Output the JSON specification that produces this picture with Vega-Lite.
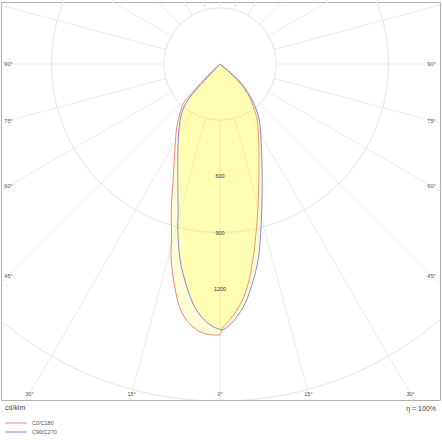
{
  "$schema": "https://vega.github.io/schema/vega-lite/v6.json",
  "width": 439,
  "height": 398,
  "autosize": {"type": "none"},
  "padding": {"left": 1, "top": 2, "right": 2, "bottom": 40},
  "background": "white",
  "config": {
    "view": {"stroke": "#b0b0b0", "strokeWidth": 1},
    "font": "Liberation Sans"
  },
  "datasets": {
    "curves": [
      {"c": "C0/C180", "a": -180, "v": 0},
      {"c": "C0/C180", "a": -46, "v": 123},
      {"c": "C0/C180", "a": -44, "v": 218},
      {"c": "C0/C180", "a": -43, "v": 287},
      {"c": "C0/C180", "a": -39, "v": 339},
      {"c": "C0/C180", "a": -34.5, "v": 407},
      {"c": "C0/C180", "a": -28.5, "v": 503},
      {"c": "C0/C180", "a": -22.5, "v": 651},
      {"c": "C0/C180", "a": -18.5, "v": 821},
      {"c": "C0/C180", "a": -16, "v": 939},
      {"c": "C0/C180", "a": -14, "v": 1078},
      {"c": "C0/C180", "a": -11.5, "v": 1213},
      {"c": "C0/C180", "a": -9.5, "v": 1313},
      {"c": "C0/C180", "a": -7.5, "v": 1378},
      {"c": "C0/C180", "a": -5, "v": 1425},
      {"c": "C0/C180", "a": -3, "v": 1443},
      {"c": "C0/C180", "a": -1, "v": 1447},
      {"c": "C0/C180", "a": 0, "v": 1445},
      {"c": "C0/C180", "a": 0.5, "v": 1411},
      {"c": "C0/C180", "a": 1.5, "v": 1385},
      {"c": "C0/C180", "a": 4.5, "v": 1299},
      {"c": "C0/C180", "a": 7, "v": 1197},
      {"c": "C0/C180", "a": 9.5, "v": 1061},
      {"c": "C0/C180", "a": 12, "v": 925},
      {"c": "C0/C180", "a": 14.5, "v": 806},
      {"c": "C0/C180", "a": 19, "v": 637},
      {"c": "C0/C180", "a": 26, "v": 472},
      {"c": "C0/C180", "a": 33.5, "v": 359},
      {"c": "C0/C180", "a": 38, "v": 289},
      {"c": "C0/C180", "a": 43, "v": 214},
      {"c": "C0/C180", "a": 47, "v": 126},
      {"c": "C0/C180", "a": 180, "v": 0},
      {"c": "C90/C270", "a": -180, "v": 0},
      {"c": "C90/C270", "a": -43, "v": 117},
      {"c": "C90/C270", "a": -42.5, "v": 212},
      {"c": "C90/C270", "a": -41, "v": 277},
      {"c": "C90/C270", "a": -38, "v": 333},
      {"c": "C90/C270", "a": -33, "v": 400},
      {"c": "C90/C270", "a": -27, "v": 494},
      {"c": "C90/C270", "a": -20.5, "v": 643},
      {"c": "C90/C270", "a": -16, "v": 811},
      {"c": "C90/C270", "a": -14, "v": 929},
      {"c": "C90/C270", "a": -11.5, "v": 1067},
      {"c": "C90/C270", "a": -8.5, "v": 1202},
      {"c": "C90/C270", "a": -6, "v": 1302},
      {"c": "C90/C270", "a": -3.5, "v": 1369},
      {"c": "C90/C270", "a": -1.5, "v": 1403},
      {"c": "C90/C270", "a": 0, "v": 1416},
      {"c": "C90/C270", "a": 0.5, "v": 1420},
      {"c": "C90/C270", "a": 2.5, "v": 1386},
      {"c": "C90/C270", "a": 5.5, "v": 1302},
      {"c": "C90/C270", "a": 8, "v": 1201},
      {"c": "C90/C270", "a": 11, "v": 1066},
      {"c": "C90/C270", "a": 13.5, "v": 929},
      {"c": "C90/C270", "a": 16, "v": 810},
      {"c": "C90/C270", "a": 20.5, "v": 642},
      {"c": "C90/C270", "a": 27.5, "v": 477},
      {"c": "C90/C270", "a": 35, "v": 365},
      {"c": "C90/C270", "a": 39.5, "v": 295},
      {"c": "C90/C270", "a": 44, "v": 218},
      {"c": "C90/C270", "a": 49, "v": 130},
      {"c": "C90/C270", "a": 180, "v": 0}
    ],
    "rings": [
      {"r": 300}, {"r": 600}, {"r": 900}, {"r": 1200},
      {"r": 1500}, {"r": 1800}, {"r": 2100}
    ],
    "spokes": [
      {"a": 0}, {"a": 15}, {"a": 30}, {"a": 45}, {"a": 60}, {"a": 75},
      {"a": 90}, {"a": 105}, {"a": 120}, {"a": 135}, {"a": 150}, {"a": 165},
      {"a": 180}, {"a": 195}, {"a": 210}, {"a": 225}, {"a": 240}, {"a": 255},
      {"a": 270}, {"a": 285}, {"a": 300}, {"a": 315}, {"a": 330}, {"a": 345}
    ],
    "angleLabels": [
      {"t": "90°", "a": 90, "s": -1}, {"t": "75°", "a": 75, "s": -1},
      {"t": "60°", "a": 60, "s": -1}, {"t": "45°", "a": 45, "s": -1},
      {"t": "90°", "a": 90, "s": 1}, {"t": "75°", "a": 75, "s": 1},
      {"t": "60°", "a": 60, "s": 1}, {"t": "45°", "a": 45, "s": 1},
      {"t": "30°", "a": 30, "s": -1}, {"t": "15°", "a": 15, "s": -1},
      {"t": "0°", "a": 0, "s": 1}, {"t": "15°", "a": 15, "s": 1},
      {"t": "30°", "a": 30, "s": 1}
    ],
    "ringLabels": [
      {"v": 600, "t": "600"}, {"v": 900, "t": "900"}, {"v": 1200, "t": "1200"}
    ]
  },
  "layer": [
    {
      "data": {"name": "rings"},
      "mark": {"type": "arc", "filled": false, "stroke": "#ebebeb", "strokeWidth": 1, "theta": 0, "theta2": 6.2832, "clip": true},
      "encoding": {
        "x": {"datum": 0, "type": "quantitative", "scale": {"domain": [-1169.1, 1174.4], "nice": false, "zero": false}, "axis": null},
        "y": {"datum": 0, "type": "quantitative", "scale": {"domain": [-1793.6, 331.0], "nice": false, "zero": false}, "axis": null},
        "radius": {"field": "r", "type": "quantitative", "scale": {"type": "linear", "domain": [0, 2100], "range": [0, 393.4], "zero": true, "nice": false}}
      }
    },
    {
      "data": {"name": "spokes"},
      "transform": [
        {"calculate": "300*sin(datum.a*PI/180)", "as": "x"},
        {"calculate": "-300*cos(datum.a*PI/180)", "as": "y"},
        {"calculate": "2400*sin(datum.a*PI/180)", "as": "x2"},
        {"calculate": "-2400*cos(datum.a*PI/180)", "as": "y2"}
      ],
      "mark": {"type": "rule", "stroke": "#ebebeb", "strokeWidth": 1, "clip": true},
      "encoding": {
        "x": {"field": "x", "type": "quantitative", "scale": {"domain": [-1169.1, 1174.4], "nice": false, "zero": false}, "axis": null},
        "y": {"field": "y", "type": "quantitative", "scale": {"domain": [-1793.6, 331.0], "nice": false, "zero": false}, "axis": null},
        "x2": {"field": "x2"},
        "y2": {"field": "y2"}
      }
    },
    {
      "data": {"name": "curves"},
      "transform": [
        {"calculate": "datum.v*sin(datum.a*PI/180)", "as": "x"},
        {"calculate": "-datum.v*cos(datum.a*PI/180)", "as": "y"}
      ],
      "mark": {"type": "line", "interpolate": "catmull-rom", "fill": "#ffff00", "fillOpacity": 0.16, "strokeWidth": 1, "clip": true},
      "encoding": {
        "x": {"field": "x", "type": "quantitative", "scale": {"domain": [-1169.1, 1174.4], "nice": false, "zero": false}, "axis": null},
        "y": {"field": "y", "type": "quantitative", "scale": {"domain": [-1793.6, 331.0], "nice": false, "zero": false}, "axis": null},
        "order": {"field": "a", "type": "quantitative"},
        "color": {
          "field": "c",
          "type": "nominal",
          "scale": {"domain": ["C0/C180", "C90/C270"], "range": ["#f08282", "#8686de"]},
          "legend": {
            "orient": "none",
            "legendX": 4,
            "legendY": 417.5,
            "title": null,
            "symbolType": "stroke",
            "symbolSize": 441,
            "symbolStrokeWidth": 1,
            "clipHeight": 7,
            "rowPadding": 2,
            "labelFontSize": 5.5,
            "labelColor": "#555",
            "labelOffset": 5,
            "padding": 0
          }
        }
      }
    },
    {
      "data": {"name": "ringLabels"},
      "transform": [{"calculate": "-datum.v", "as": "y"}],
      "mark": {"type": "text", "align": "center", "baseline": "middle", "fontSize": 5.5, "color": "#333"},
      "encoding": {
        "x": {"datum": 0, "type": "quantitative", "scale": {"domain": [-1169.1, 1174.4], "nice": false, "zero": false}, "axis": null},
        "y": {"field": "y", "type": "quantitative", "scale": {"domain": [-1793.6, 331.0], "nice": false, "zero": false}, "axis": null},
        "text": {"field": "t"}
      }
    },
    {
      "data": {"name": "angleLabels"},
      "transform": [
        {"calculate": "datum.a >= 45 ? datum.s*1129 : datum.s*1762*tan(datum.a*PI/180)", "as": "x"},
        {"calculate": "datum.a >= 45 ? -1129*cos(datum.a*PI/180)/sin(datum.a*PI/180) : -1762", "as": "y"}
      ],
      "mark": {"type": "text", "align": "center", "baseline": "middle", "fontSize": 5.5, "color": "#555"},
      "encoding": {
        "x": {"field": "x", "type": "quantitative", "scale": {"domain": [-1169.1, 1174.4], "nice": false, "zero": false}, "axis": null},
        "y": {"field": "y", "type": "quantitative", "scale": {"domain": [-1793.6, 331.0], "nice": false, "zero": false}, "axis": null},
        "text": {"field": "t"}
      }
    },
    {
      "data": {"values": [{"t": "cd/klm"}]},
      "mark": {"type": "text", "align": "left", "baseline": "middle", "dx": 4, "dy": 8, "fontSize": 7, "color": "#444"},
      "encoding": {
        "x": {"datum": -1169.1, "type": "quantitative", "scale": {"domain": [-1169.1, 1174.4], "nice": false, "zero": false}, "axis": null},
        "y": {"datum": -1793.6, "type": "quantitative", "scale": {"domain": [-1793.6, 331.0], "nice": false, "zero": false}, "axis": null},
        "text": {"field": "t"}
      }
    },
    {
      "data": {"values": [{"t": "η = 100%"}]},
      "mark": {"type": "text", "align": "right", "baseline": "middle", "dx": -4, "dy": 9, "fontSize": 7, "color": "#444"},
      "encoding": {
        "x": {"datum": 1174.4, "type": "quantitative", "scale": {"domain": [-1169.1, 1174.4], "nice": false, "zero": false}, "axis": null},
        "y": {"datum": -1793.6, "type": "quantitative", "scale": {"domain": [-1793.6, 331.0], "nice": false, "zero": false}, "axis": null},
        "text": {"field": "t"}
      }
    }
  ]
}
